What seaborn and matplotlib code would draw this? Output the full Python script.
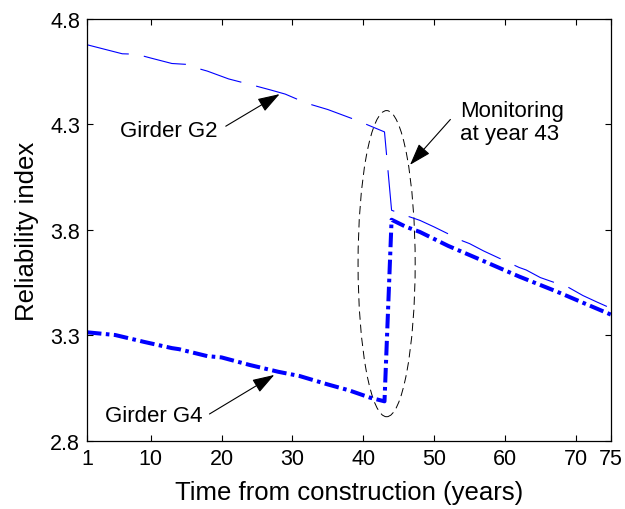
import matplotlib
matplotlib.use("Agg")
import matplotlib.pyplot as plt
from matplotlib.patches import Ellipse
import numpy as np
import pandas as pd
import seaborn as sns

# Reliability index of girder G2 over time (years from construction)
g2_years = [1, 6, 8, 10, 13, 15, 16, 18, 21, 24, 27, 29, 32, 35, 37, 39, 41, 43,
            44, 46, 48, 50, 54, 55, 57, 62, 63, 65, 69, 71, 73, 75]
g2_beta = [4.677, 4.634, 4.632, 4.614, 4.588, 4.584, 4.571, 4.552, 4.515, 4.489,
           4.462, 4.443, 4.400, 4.370, 4.345, 4.320, 4.292, 4.264,
           3.893, 3.868, 3.845, 3.814, 3.748, 3.735, 3.700, 3.622, 3.610, 3.574,
           3.527, 3.489, 3.458, 3.428]

# Reliability index of girder G4 over time
g4_years = [1, 5, 9, 13, 14, 18, 20, 24, 28, 31, 35, 38, 41, 43,
            44, 46, 48, 52, 57, 62, 67, 68, 71, 75]
g4_beta = [3.315, 3.302, 3.270, 3.240, 3.235, 3.202, 3.196, 3.160, 3.128, 3.108,
           3.068, 3.040, 3.005, 2.988,
           3.848, 3.815, 3.790, 3.724, 3.652, 3.579, 3.512, 3.498, 3.455, 3.398]

x_ticks = [1, 10, 20, 30, 40, 50, 60, 70, 75]
y_ticks = [2.8, 3.3, 3.8, 4.3, 4.8]

monitoring_year = 43

sns.set_style("ticks")
plt.rcParams["font.family"] = ["Liberation Sans", "DejaVu Sans"]
plt.rcParams["lines.scale_dashes"] = False
plt.rcParams["text.color"] = "black"
plt.rcParams["axes.labelcolor"] = "black"

fig = plt.figure(figsize=(6.25, 5.10), dpi=100)
ax = fig.add_axes([0.139, 0.1333, 0.839, 0.828])

df2 = pd.DataFrame({"year": g2_years, "beta": g2_beta})
df4 = pd.DataFrame({"year": g4_years, "beta": g4_beta})

sns.lineplot(data=df2, x="year", y="beta", ax=ax, color="#0000ff",
             linewidth=0.8, estimator=None, sort=False)
sns.lineplot(data=df4, x="year", y="beta", ax=ax, color="#0000ff",
             linewidth=2.9, estimator=None, sort=False)
lines = ax.get_lines()
lines[0].set_dashes((31, 11))
lines[1].set_dashes((10.5, 3.2, 2.6, 3.2))
lines[1].set_dash_capstyle("butt")
lines[0].set_dash_capstyle("butt")

ax.set_xlim(1, 75)
ax.set_ylim(2.8, 4.8)
ax.set_xticks(x_ticks)
ax.set_xticklabels([str(t) for t in x_ticks])
ax.set_yticks(y_ticks)
ax.set_yticklabels([f"{t:.1f}" for t in y_ticks])

for side in ["top", "right", "left", "bottom"]:
    ax.spines[side].set_visible(True)
    ax.spines[side].set_linewidth(0.9)
    ax.spines[side].set_color("black")

ax.tick_params(axis="both", which="both", direction="in", length=4, width=0.8,
               top=True, right=True, labelsize=15.5, colors="black", pad=5)

ax.set_xlabel("Time from construction (years)", fontsize=18.5, labelpad=8)
ax.set_ylabel("Reliability index", fontsize=18.5, labelpad=8)

# Ellipse marking the monitoring event
ell = Ellipse((monitoring_year + 0.3, 3.64), width=8.06, height=1.45,
              fill=False, edgecolor="black", linewidth=0.7,
              linestyle=(0, (6, 3.5)))
ax.add_patch(ell)

arrow_kw = dict(arrowstyle="-|>,head_length=0.85,head_width=0.28",
                color="black", linewidth=0.8, shrinkA=0, shrinkB=0)

ax.text(19.4, 4.27, "Girder G2", fontsize=16, ha="right", va="center")
ax.annotate("", xy=(28.2, 4.443), xytext=(20.6, 4.291), arrowprops=arrow_kw,
            fontsize=16)

ax.text(17.3, 2.92, "Girder G4", fontsize=16, ha="right", va="center")
ax.annotate("", xy=(27.45, 3.113), xytext=(18.3, 2.928), arrowprops=arrow_kw,
            fontsize=16)

ax.text(53.7, 4.312, "Monitoring\nat year 43", fontsize=16, ha="left",
        va="center", linespacing=1.15)
ax.annotate("", xy=(46.6, 4.108), xytext=(52.3, 4.323), arrowprops=arrow_kw,
            fontsize=16)

fig.savefig("out.png", dpi=100)
